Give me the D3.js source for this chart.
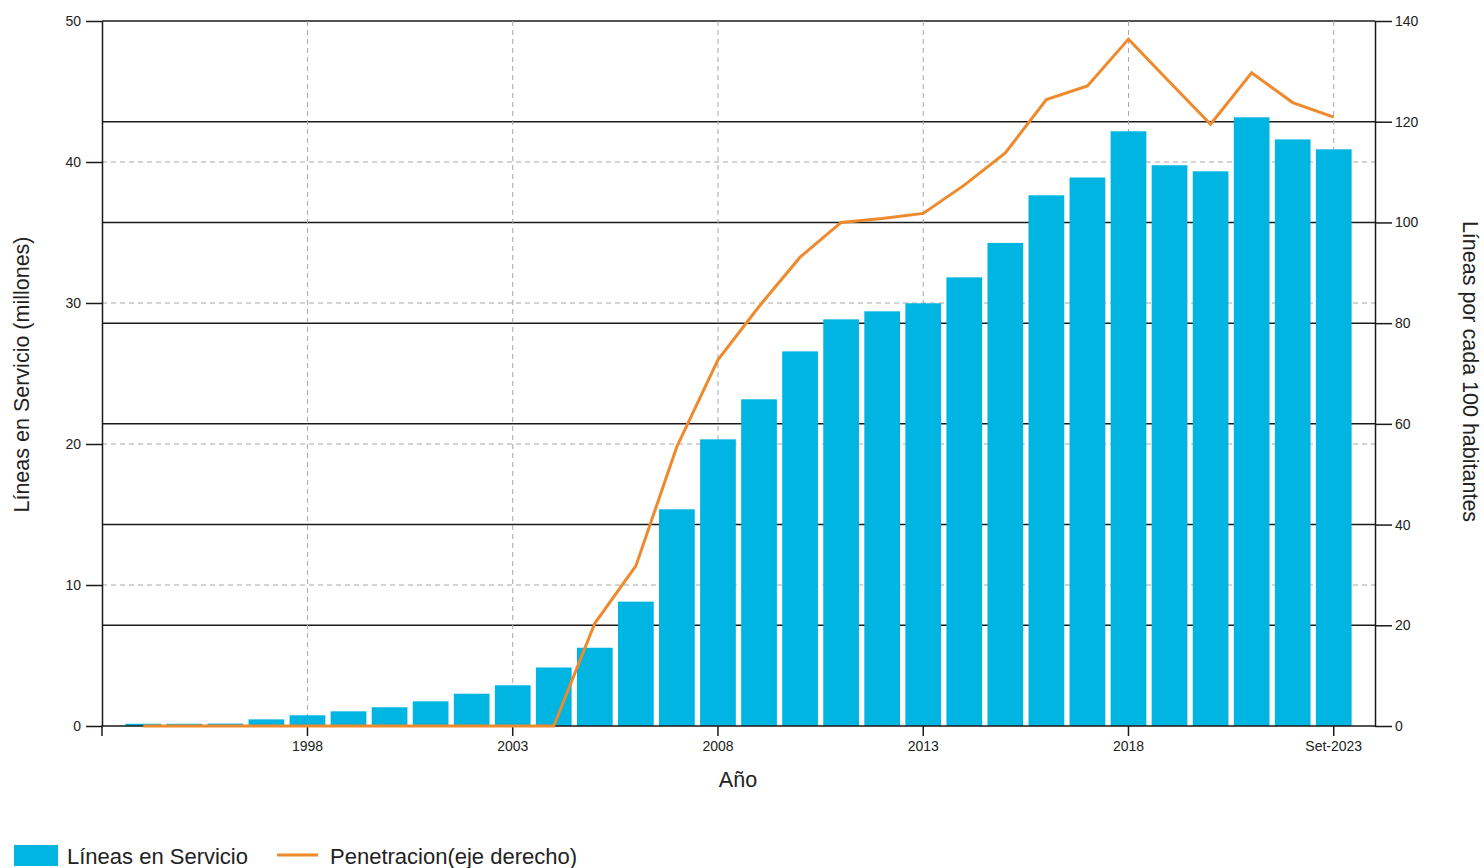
<!DOCTYPE html>
<html>
<head>
<meta charset="utf-8">
<script src="https://cdn.jsdelivr.net/npm/d3@7"></script>
<style>
  body { margin: 0; background: #fff; }
  svg { font-family: Arial, "Liberation Sans", sans-serif; }
  .tick text { fill: #222; }
</style>
</head>
<body>
<div id="chart"></div>
<script>
// categories (x axis)
var years = ['1994','1995','1996','1997','1998','1999','2000','2001','2002','2003',
             '2004','2005','2006','2007','2008','2009','2010','2011','2012','2013',
             '2014','2015','2016','2017','2018','2019','2020','2021','2022','Set-2023'];
var xTickLabels = ['1998','2003','2008','2013','2018','Set-2023'];

// Líneas en Servicio (millones) - left axis
var lineas = [0.16, 0.16, 0.17, 0.47, 0.76, 1.04, 1.33, 1.75, 2.29, 2.89,
              4.15, 5.55, 8.82, 15.37, 20.33, 23.17, 26.57, 28.84, 29.41, 29.98,
              31.82, 34.26, 37.64, 38.9, 42.18, 39.77, 39.34, 43.17, 41.6, 40.9];

// Penetracion (lineas por cada 100 habitantes) - right axis
var penetracion = [0, 0, 0, 0, 0, 0, 0, 0, 0, 0,
                   0, 20.4, 31.8, 55.5, 72.7, 83.3, 93.1, 100.0, 100.8, 101.8,
                   107.4, 113.8, 124.4, 127.1, 136.4, 127.9, 119.5, 129.7, 123.8, 120.9];

var leftTicks = [0, 10, 20, 30, 40, 50];
var rightTicks = [0, 20, 40, 60, 80, 100, 120, 140];

var barColor = '#00b5e1';
var lineColor = '#ef8a2c';

var W = 1484, H = 868;
var margin = { top: 21, right: 109, bottom: 142, left: 102 };
var width = W - margin.left - margin.right;
var height = H - margin.top - margin.bottom;

var svg = d3.select('#chart').append('svg')
  .attr('width', W)
  .attr('height', H);

var g = svg.append('g')
  .attr('transform', 'translate(' + margin.left + ',' + margin.top + ')');

var x = d3.scaleBand()
  .domain(years)
  .range([0, width])
  .paddingInner(0.13)
  .paddingOuter(0.57);

var yL = d3.scaleLinear().domain([0, 50]).range([height, 0]);
var yR = d3.scaleLinear().domain([0, 140]).range([height, 0]);

function cx(d) { return x(d) + x.bandwidth() / 2; }

// solid black lines at right axis ticks
g.selectAll('.rgrid')
  .data(rightTicks.slice(1))
  .enter().append('line')
  .attr('class', 'rgrid')
  .attr('x1', 0).attr('x2', width)
  .attr('y1', function (d) { return yR(d); })
  .attr('y2', function (d) { return yR(d); })
  .style('stroke', '#1a1a1a')
  .style('stroke-width', 1.5);

// dashed grey lines at left axis ticks
g.selectAll('.lgrid')
  .data(leftTicks.slice(1, -1))
  .enter().append('line')
  .attr('class', 'lgrid')
  .attr('x1', 0).attr('x2', width)
  .attr('y1', function (d) { return yL(d); })
  .attr('y2', function (d) { return yL(d); })
  .style('stroke', '#a8a8a8')
  .style('stroke-width', 1)
  .style('stroke-dasharray', '5,4');

// dashed vertical grid at x ticks
g.selectAll('.xgrid')
  .data(xTickLabels)
  .enter().append('line')
  .attr('class', 'xgrid')
  .attr('x1', cx).attr('x2', cx)
  .attr('y1', 0).attr('y2', height)
  .style('stroke', '#a8a8a8')
  .style('stroke-width', 1)
  .style('stroke-dasharray', '5,4');

// bars
g.selectAll('.bar')
  .data(years)
  .enter().append('rect')
  .attr('class', 'bar')
  .attr('x', function (d) { return x(d); })
  .attr('width', x.bandwidth())
  .attr('y', function (d, i) { return yL(lineas[i]); })
  .attr('height', function (d, i) { return height - yL(lineas[i]); })
  .style('fill', barColor);

// axes
var xAxis = g.append('g')
  .attr('transform', 'translate(0,' + height + ')')
  .call(d3.axisBottom(x).tickValues(xTickLabels).tickSize(10).tickSizeOuter(0).tickPadding(5));
xAxis.select('.domain').attr('d', 'M0,10V0H' + width);

var yAxisL = g.append('g')
  .call(d3.axisLeft(yL).tickValues(leftTicks).tickSize(16).tickSizeOuter(0).tickPadding(5));

var yAxisR = g.append('g')
  .attr('transform', 'translate(' + width + ',0)')
  .call(d3.axisRight(yR).tickValues(rightTicks).tickSize(17).tickSizeOuter(0).tickPadding(3));

[xAxis, yAxisL, yAxisR].forEach(function (a) {
  a.selectAll('.domain, .tick line').style('stroke', '#1a1a1a').style('stroke-width', 1.5);
  a.selectAll('.tick text').style('font-size', '14px').style('fill', '#222');
});

// penetracion line
var line = d3.line()
  .x(function (d, i) { return cx(years[i]); })
  .y(function (d) { return yR(d); });

g.append('path')
  .datum(penetracion)
  .attr('d', line)
  .style('fill', 'none')
  .style('stroke', lineColor)
  .style('stroke-width', 3)
  .style('stroke-linejoin', 'miter');

// axis titles
svg.append('text')
  .attr('transform', 'translate(22,' + (margin.top + height / 2 + 1) + ') rotate(-90)')
  .attr('text-anchor', 'middle')
  .attr('dominant-baseline', 'central')
  .style('font-size', '21.5px')
  .style('fill', '#222')
  .text('Líneas en Servicio (millones)');

svg.append('text')
  .attr('transform', 'translate(1470,' + (margin.top + height / 2 - 2) + ') rotate(90)')
  .attr('text-anchor', 'middle')
  .attr('dominant-baseline', 'central')
  .style('font-size', '21.5px')
  .style('fill', '#222')
  .text('Líneas por cada 100 habitantes');

svg.append('text')
  .attr('x', 738)
  .attr('y', 787)
  .attr('text-anchor', 'middle')
  .style('font-size', '21.5px')
  .style('fill', '#222')
  .text('Año');

// legend
var legend = svg.append('g').attr('transform', 'translate(14,845)');
legend.append('rect')
  .attr('x', 0).attr('y', 0)
  .attr('width', 44).attr('height', 21)
  .style('fill', barColor);
legend.append('text')
  .attr('x', 53).attr('y', 19)
  .style('font-size', '22px')
  .style('fill', '#222')
  .text('Líneas en Servicio');
legend.append('line')
  .attr('x1', 263).attr('x2', 304)
  .attr('y1', 10).attr('y2', 10)
  .style('stroke', lineColor)
  .style('stroke-width', 3);
legend.append('text')
  .attr('x', 316).attr('y', 19)
  .style('font-size', '22px')
  .style('fill', '#222')
  .text('Penetracion(eje derecho)');
</script>
</body>
</html>
